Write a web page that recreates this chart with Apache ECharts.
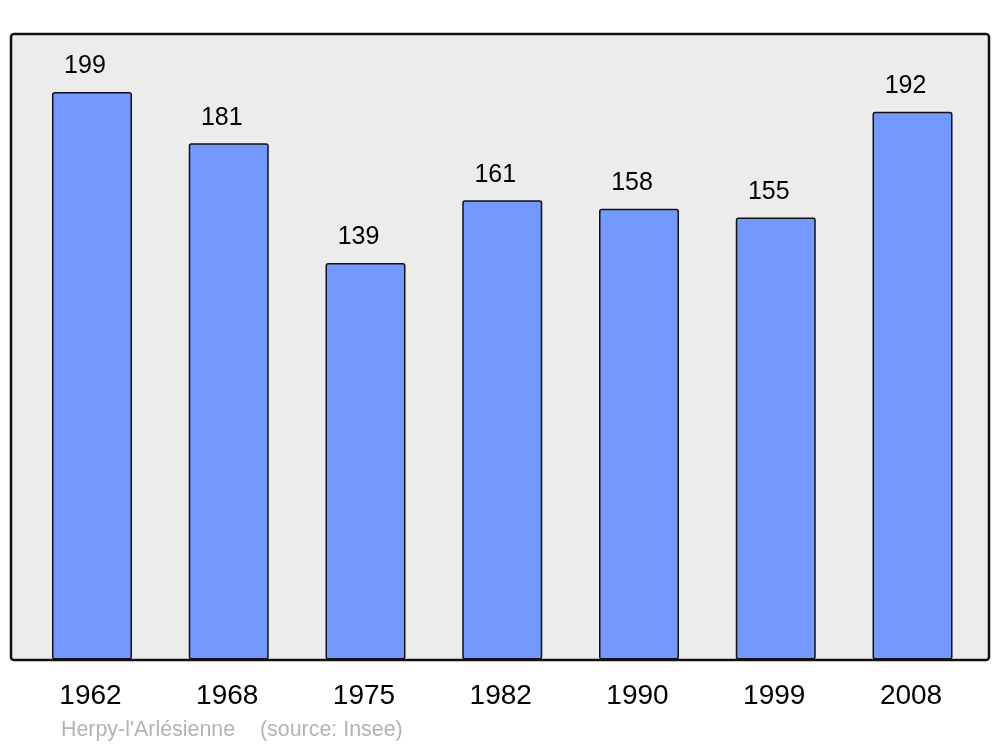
<!DOCTYPE html>
<html>
<head>
<meta charset="utf-8">
<script src="https://cdn.jsdelivr.net/npm/echarts@6/dist/echarts.min.js"></script>
<style>html,body{margin:0;padding:0;background:#fff}#c{width:1000px;height:747px}</style>
</head>
<body>
<div id="c"></div>
<script>
const years = ['1962', '1968', '1975', '1982', '1990', '1999', '2008'];
const population = [199, 181, 139, 161, 158, 155, 192];
const commune = "Herpy-l'Arlésienne";
const source = '(source: Insee)';

const chart = echarts.init(document.getElementById('c'), null, {renderer: 'canvas'});
chart.setOption({
  animation: false,
  backgroundColor: '#ffffff',
  grid: {left: 23.6, right: 19.1, top: 34, bottom: 87.5, containLabel: false},
  xAxis: {
    type: 'category',
    data: years,
    axisLine: {show: false},
    axisTick: {show: false},
    axisLabel: {fontFamily: 'Liberation Sans, Arial, sans-serif', fontSize: 28, color: '#000', margin: 23, padding: [0, 3, 0, 0]}
  },
  yAxis: {
    type: 'value', min: 0, max: 219.3, show: false, splitLine: {show: false}
  },
  graphic: [
    {type: 'rect', z: -10, shape: {x: 11, y: 34, width: 978, height: 626, r: 3},
     style: {fill: '#ececec', stroke: '#111111', lineWidth: 2.5}},
    {type: 'text', left: 61, top: 720, style: {text: commune, font: '21.4px "Liberation Sans", Arial, sans-serif', fill: '#b3b3b3'}},
    {type: 'text', left: 260, top: 720, style: {text: source, font: '21.4px "Liberation Sans", Arial, sans-serif', fill: '#b3b3b3'}}
  ],
  series: [{
    type: 'bar',
    data: population,
    barWidth: 80,
    itemStyle: {color: '#7399ff', borderColor: '#111111', borderWidth: 1.5, borderRadius: 2},
    label: {
      show: true, position: 'top', distance: 13, offset: [-7, 0],
      fontFamily: 'Liberation Sans, Arial, sans-serif', fontSize: 25, color: '#000'
    }
  }]
});
</script>
</body>
</html>
